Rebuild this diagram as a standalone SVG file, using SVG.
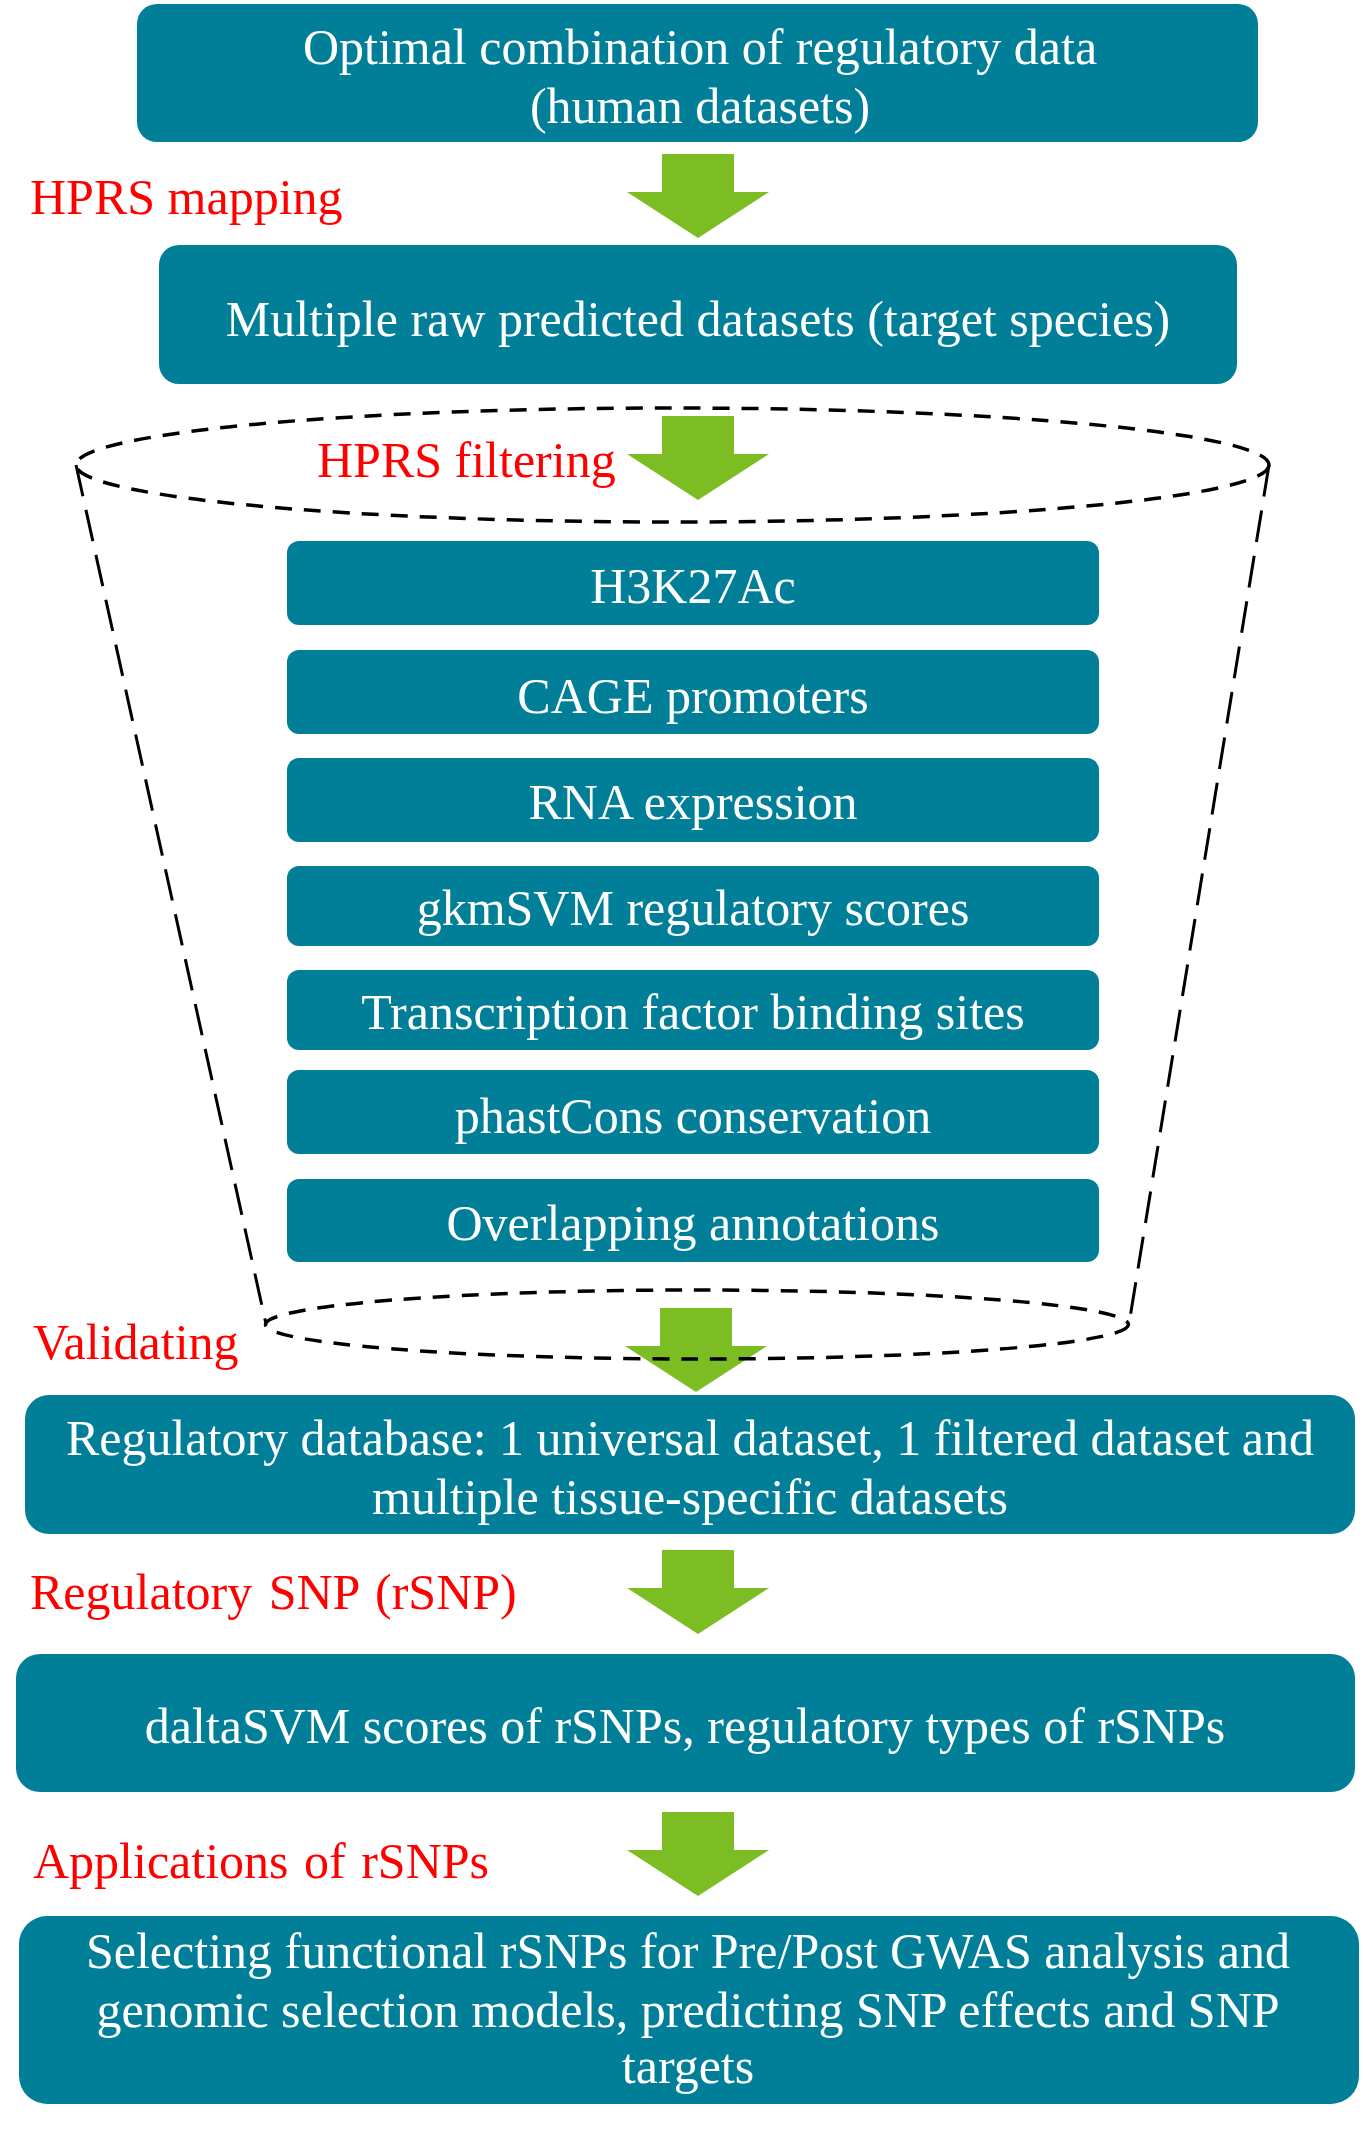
<svg xmlns="http://www.w3.org/2000/svg" width="1363" height="2130" viewBox="0 0 1363 2130">
<defs>
<style>
.box{fill:#017F98}
.t{font-family:"Liberation Serif","Times New Roman",serif;font-size:50px;fill:#FFFFFF;text-anchor:middle}
.lbl{font-family:"Liberation Serif","Times New Roman",serif;font-size:50px;fill:#FF0000}
.arr{fill:#7BBD22}
.ell{fill:none;stroke:#000;stroke-width:3.5;stroke-dasharray:17 12}
.side{fill:none;stroke:#000;stroke-width:3;stroke-dasharray:32 14}
</style>
<path id="arrowShape" d="M-36,0 H36 V38 H71 L0,84 L-71,38 H-36 Z"/>
</defs>
<rect width="1363" height="2130" fill="#FFFFFF"/>
<g id="connectors">
<use href="#arrowShape" class="arr" x="698" y="154"/>
<use href="#arrowShape" class="arr" x="698" y="416"/>
<use href="#arrowShape" class="arr" x="696" y="1308"/>
<use href="#arrowShape" class="arr" x="698" y="1550"/>
<use href="#arrowShape" class="arr" x="698" y="1812"/>
</g>
<g id="funnel">
<ellipse class="ell" cx="672.5" cy="465" rx="596.5" ry="57"/>
<ellipse class="ell" cx="697" cy="1324.5" rx="431.5" ry="34.5"/>
<line class="side" x1="76" y1="465" x2="266" y2="1324"/>
<line class="side" x1="1269" y1="465" x2="1129" y2="1324"/>
</g>
<g id="labels">
<text class="lbl" x="30" y="214">HPRS mapping</text>
<text class="lbl" x="317" y="477">HPRS filtering</text>
<text class="lbl" x="33" y="1359">Validating</text>
<text class="lbl" x="30" y="1609" word-spacing="4">Regulatory SNP (rSNP)</text>
<text class="lbl" x="33" y="1878" word-spacing="3">Applications of rSNPs</text>
</g>
<g id="node-optimal">
<rect class="box" x="137" y="4" width="1121" height="138" rx="20"/>
<text class="t" x="700" y="64">Optimal combination of regulatory data</text>
<text class="t" x="700" y="123">(human datasets)</text>
</g>
<g id="node-raw">
<rect class="box" x="159" y="245" width="1078" height="139" rx="20"/>
<text class="t" x="698" y="336">Multiple raw predicted datasets (target species)</text>
</g>
<g id="node-h3k27ac">
<rect class="box" x="287" y="541" width="812" height="84" rx="12"/>
<text class="t" x="693" y="603">H3K27Ac</text>
</g>
<g id="node-cage">
<rect class="box" x="287" y="650" width="812" height="84" rx="12"/>
<text class="t" x="693" y="713">CAGE promoters</text>
</g>
<g id="node-rna">
<rect class="box" x="287" y="758" width="812" height="84" rx="12"/>
<text class="t" x="693" y="819">RNA expression</text>
</g>
<g id="node-gkmsvm">
<rect class="box" x="287" y="866" width="812" height="80" rx="12"/>
<text class="t" x="693" y="925">gkmSVM regulatory scores</text>
</g>
<g id="node-tfbs">
<rect class="box" x="287" y="970" width="812" height="80" rx="12"/>
<text class="t" x="693" y="1029">Transcription factor binding sites</text>
</g>
<g id="node-phastcons">
<rect class="box" x="287" y="1070" width="812" height="84" rx="12"/>
<text class="t" x="693" y="1133">phastCons conservation</text>
</g>
<g id="node-overlap">
<rect class="box" x="287" y="1179" width="812" height="83" rx="12"/>
<text class="t" x="693" y="1240">Overlapping annotations</text>
</g>
<g id="node-database">
<rect class="box" x="25" y="1395" width="1330" height="139" rx="24"/>
<text class="t" x="690" y="1455">Regulatory database: 1 universal dataset, 1 filtered dataset and</text>
<text class="t" x="690" y="1514">multiple tissue-specific datasets</text>
</g>
<g id="node-deltasvm">
<rect class="box" x="16" y="1654" width="1339" height="138" rx="24"/>
<text class="t" x="685" y="1743">daltaSVM scores of rSNPs, regulatory types of rSNPs</text>
</g>
<g id="node-applications">
<rect class="box" x="19" y="1916" width="1340" height="188" rx="28"/>
<text class="t" x="688" y="1968">Selecting functional rSNPs for Pre/Post GWAS analysis and</text>
<text class="t" x="688" y="2027">genomic selection models, predicting SNP effects and SNP</text>
<text class="t" x="688" y="2083">targets</text>
</g>
</svg>
